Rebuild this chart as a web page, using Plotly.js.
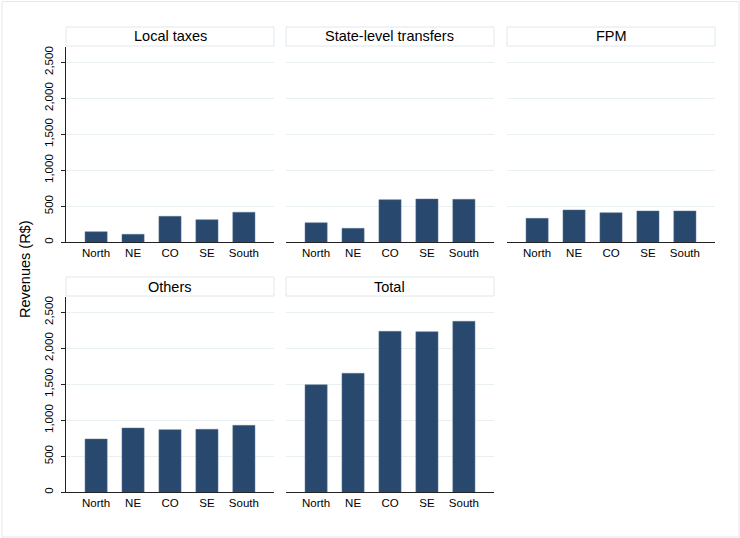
<!DOCTYPE html>
<html>
<head>
<meta charset="utf-8">
<script src="https://cdn.plot.ly/plotly-3.0.1.min.js"></script>
<style>
html,body{margin:0;padding:0;background:#fff;}
#chart{width:740px;height:538px;}
</style>
</head>
<body>
<div id="chart"></div>
<script>
const regions = ['North', 'NE', 'CO', 'SE', 'South'];
const panelTitles = ['Local taxes', 'State-level transfers', 'FPM', 'Others', 'Total'];
const localTaxes = [147, 111, 361, 314, 417];
const stateTransfers = [272, 194, 592, 601, 597];
const fpm = [333, 449, 411, 435, 435];
const others = [740, 893, 870, 875, 930];
const total = [1494, 1653, 2236, 2231, 2375];
const yTickVals = [0, 500, 1000, 1500, 2000, 2500];
const yTickText = ['0', '500', '1,000', '1,500', '2,000', '2,500'];
const yAxisTitle = 'Revenues (R$)';

const series = [localTaxes, stateTransfers, fpm, others, total];

const W = 740, H = 538;
const colPx = [[66, 274], [286, 494], [507, 715]];
const rowPx = [[46.7, 242.3], [296.7, 492.3]];
const stripPx = [[27, 46], [277, 296]];
const barColor = '#28486e';
const gridColor = '#e9f0f2';
const stripBorder = '#dfe8ec';
const font = 'Liberation Sans, Arial, Helvetica, sans-serif';

const data = [];
const layout = {
  width: W, height: H,
  margin: {l: 0, r: 0, t: 0, b: 0},
  paper_bgcolor: '#ffffff',
  plot_bgcolor: '#ffffff',
  showlegend: false,
  font: {family: font, size: 11, color: '#000'},
  bargap: 0.4,
  shapes: [],
  annotations: []
};

const cells = [[0,0],[0,1],[0,2],[1,0],[1,1]];
cells.forEach((rc, i) => {
  const [r, c] = rc;
  const n = i + 1;
  const xs = n === 1 ? '' : String(n);
  const xd = [colPx[c][0] / W, colPx[c][1] / W];
  const yd = [1 - rowPx[r][1] / H, 1 - rowPx[r][0] / H];
  data.push({
    type: 'bar',
    x: regions,
    y: series[i],
    xaxis: 'x' + xs,
    yaxis: 'y' + xs,
    marker: {color: barColor, line: {color: '#5a7696', width: 0.5}},
    width: 0.6,
    hoverinfo: 'x+y'
  });
  layout['xaxis' + xs] = {
    domain: xd,
    anchor: 'y' + xs,
    type: 'category',
    range: [-0.815, 4.815],
    showline: true, linecolor: '#222', linewidth: 1,
    ticks: '', showgrid: false, zeroline: false,
    tickfont: {family: font, size: 11.5, color: '#000'},
    fixedrange: true
  };
  const firstCol = c === 0;
  layout['yaxis' + xs] = {
    domain: yd,
    anchor: 'x' + xs,
    range: [0, 2717],
    tickvals: yTickVals,
    ticktext: yTickText,
    showticklabels: firstCol,
    ticks: firstCol ? 'outside' : '',
    ticklen: 4, tickcolor: '#222', tickwidth: 1,
    tickangle: -90,
    ticklabelstandoff: 3,
    showline: firstCol, linecolor: '#222', linewidth: 1,
    showgrid: true, gridcolor: gridColor, gridwidth: 1,
    zeroline: false,
    tickfont: {family: font, size: 11.5, color: '#000'},
    fixedrange: true
  };
  layout.shapes.push({
    type: 'rect', xref: 'paper', yref: 'paper',
    x0: colPx[c][0] / W, x1: colPx[c][1] / W,
    y0: 1 - stripPx[r][1] / H, y1: 1 - stripPx[r][0] / H,
    fillcolor: '#ffffff', line: {color: stripBorder, width: 1}
  });
  layout.annotations.push({
    xref: 'paper', yref: 'paper',
    x: (colPx[c][0] + colPx[c][1]) / 2 / W,
    y: 1 - (stripPx[r][0] + stripPx[r][1]) / 2 / H,
    text: panelTitles[i], showarrow: false,
    xanchor: 'center', yanchor: 'middle',
    font: {family: font, size: 14.5, color: '#000'}
  });
});

layout.shapes.push({
  type: 'rect', xref: 'paper', yref: 'paper',
  x0: 2 / W, x1: 739 / W, y0: 1 - 537 / H, y1: 1 - 1.5 / H,
  line: {color: '#e6e6e6', width: 1}, fillcolor: 'rgba(0,0,0,0)', layer: 'below'
});

layout.annotations.push({
  xref: 'paper', yref: 'paper',
  x: 25 / W, y: 1 - 269 / H,
  text: yAxisTitle, showarrow: false, textangle: -90,
  xanchor: 'center', yanchor: 'middle',
  font: {family: font, size: 14.5, color: '#000'}
});

Plotly.newPlot('chart', data, layout, {displayModeBar: false, staticPlot: true});
</script>
</body>
</html>
